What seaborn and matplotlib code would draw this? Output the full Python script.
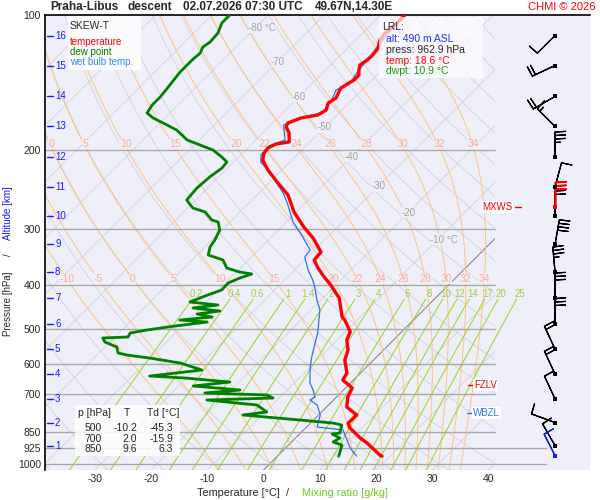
import numpy as np
import pandas as pd
import matplotlib
matplotlib.use("Agg")
import matplotlib.pyplot as plt
import matplotlib.transforms as mtransforms
from matplotlib.patches import Rectangle
import seaborn as sns

sns.set_style("white")
plt.rcParams['font.family'] = ['Liberation Sans', 'DejaVu Sans']

# ---------------- data ----------------
temp_p = [100.0, 104.2, 109.7, 113.7, 118.5, 122.8, 126.0, 129.3, 132.6, 136.1, 139.6, 145.5,
          153.1, 157.1, 162.9, 167.1, 169.7, 174.1, 177.7, 183.3, 191.9, 193.9, 197.9, 203.1,
          210.5, 221.6, 236.9, 251.9, 274.9, 296.9, 314.2, 337.6, 351.7, 366.5, 383.8, 400.0,
          427.5, 471.3, 478.6, 509.0, 530.3, 558.3, 587.7, 628.3, 651.2, 678.5, 710.6, 748.0,
          779.4, 812.1, 833.2, 877.1, 899.9, 957.1, 962.9]
temp_t = [-55.7, -55.7, -56.0, -55.7, -54.6, -54.3, -54.4, -54.8, -54.1, -53.2, -53.2, -54.1,
          -53.2, -53.7, -52.8, -53.4, -55.9, -57.3, -56.9, -55.3, -53.7, -55.7, -56.4, -56.2,
          -55.2, -52.5, -48.4, -44.5, -40.4, -36.0, -32.4, -28.5, -28.3, -26.2, -23.5, -20.9,
          -17.1, -13.2, -12.2, -9.1, -8.3, -6.3, -5.1, -2.4, -1.9, 1.2, 2.0, 3.6,
          6.8, 6.7, 7.9, 11.5, 13.6, 18.0, 18.6]

dewp_p = [100.0, 104.2, 109.7, 114.9, 117.9, 121.5, 126.0, 134.0, 145.5, 152.3, 158.7, 165.4,
          169.7, 175.9, 180.5, 189.9, 194.9, 200.0, 207.3, 212.7, 219.3, 229.7, 243.0, 258.5,
          269.3, 274.9, 286.4, 289.4, 301.5, 317.4, 329.0, 342.8, 351.7, 366.5, 374.1, 377.9,
          385.8, 395.8, 410.3, 423.1, 436.4, 443.1, 450.0, 457.0, 464.1, 471.3, 478.6, 483.6,
          493.6, 503.8, 511.6, 522.2, 524.9, 535.8, 549.8, 567.0, 572.9, 581.8, 596.8, 618.7,
          638.1, 644.6, 658.0, 671.6, 685.5, 696.2, 703.3, 714.3, 721.6, 740.4, 767.5, 779.4,
          799.7, 812.1, 820.5, 855.0, 859.3, 877.1, 895.4, 909.3, 942.5, 962.9]
dewp_t = [-86.8, -86.8, -85.7, -85.5, -85.9, -85.3, -85.5, -85.5, -84.9, -84.6, -84.6, -84.1,
          -82.1, -78.4, -75.8, -72.2, -69.0, -65.8, -63.0, -61.2, -61.0, -61.6, -61.9, -61.6,
          -59.1, -56.2, -53.6, -52.1, -50.4, -49.5, -49.1, -48.0, -44.5, -42.4, -39.4, -36.9,
          -38.3, -39.5, -39.4, -41.3, -42.9, -37.4, -41.3, -36.0, -39.5, -36.3, -41.5, -36.3,
          -41.3, -45.6, -48.0, -47.7, -52.0, -50.9, -47.9, -46.6, -44.7, -40.1, -33.8, -28.7,
          -36.9, -30.3, -21.6, -27.4, -18.4, -24.1, -12.7, -11.1, -22.5, -12.7, -9.7, -13.4,
          -2.4, 4.0, 5.9, 7.0, 5.8, 7.9, 7.4, 9.5, 10.4, 10.9]

wetb_p = [100.0, 119.7, 134.0, 141.0, 147.0, 154.7, 164.5, 170.6, 175.9, 189.9, 195.9, 205.2,
          212.7, 221.6, 249.4, 262.5, 289.4, 312.6, 334.1, 346.4, 370.2, 389.8, 404.0, 431.9,
          454.6, 511.6, 538.6, 578.7, 609.2, 661.4, 685.5, 710.6, 721.6, 740.4, 779.4, 828.9,
          841.7, 886.0, 923.3, 962.9]
wetb_t = [-55.9, -54.8, -54.0, -53.4, -54.6, -53.6, -52.9, -56.1, -57.7, -54.8, -56.6, -56.4,
          -55.2, -52.5, -45.7, -43.2, -38.8, -34.4, -30.8, -30.5, -27.6, -25.0, -23.4, -20.7,
          -18.4, -14.7, -13.4, -11.5, -10.0, -7.2, -5.4, -3.8, -4.2, -2.0, 0.3, 1.9,
          7.0, 9.5, 11.5, 14.1]

isobars = [200, 300, 400, 500, 600, 700, 850, 925, 1000]
pressure_ticks = [100, 200, 300, 400, 500, 600, 700, 850, 925, 1000]
temp_ticks = [-30, -20, -10, 0, 10, 20, 30, 40]
mixing_ratios = [0.2, 0.4, 0.6, 1, 1.4, 2, 3, 4, 6, 8, 10, 12, 14, 17, 20, 25]
theta_w = [-10, -5, 0, 5, 10, 15, 20, 22, 24, 26, 28, 30, 32, 34]
iso_label_t = [-80, -70, -60, -50, -40, -30, -20, -10]
iso_label_p = [107, 127, 152, 178, 207, 241, 276, 317]

alt_km = list(range(1, 17))
alt_p = [911.6, 810.0, 717.2, 631.5, 555.4, 487.3, 427.5, 374.1, 324.8, 280.6,
         241.8, 207.3, 177.2, 151.9, 129.6, 111.1]

sfc_wind = (962.9, 333, 10)
wind_p = alt_p
wind_dir = [330, 290, 335, 335, 335, 360, 360, 355, 10, 360, 15, 360, 315, 240, 245, 225]
wind_kt = [10, 10, 10, 20, 20, 30, 30, 35, 40, 20, 10, 35, 15, 20, 20, 10]
mxws = (268.0, 360, 30)

fzlv_p, wbzl_p = 668.0, 771.0
lrl = {"alt": 490, "press": 962.9, "temp": 18.6, "dwpt": 10.9}
tbl_p = [500, 700, 850]
tbl_t = [-10.2, 2.0, 9.6]
tbl_td = [-45.3, -15.9, 6.3]

# ---------------- geometry ----------------
P_BOT, P_TOP = 1033.6, 100.0
SKEW = 34.6
X_LEFT, X_RIGHT = -38.81, 57.99
X_CLIP = 41.12


def skew(t, p):
    return np.asarray(t, float) + SKEW * np.log(P_BOT / np.asarray(p, float))


fig = plt.figure(figsize=(6, 5), dpi=100)
ax = fig.add_axes([45 / 600, 30 / 500, 545 / 600, 455 / 500])
ax.set_yscale('log')
ax.set_facecolor('#efeffa')

clip = Rectangle((0, 0), (495 - 45) / 545, 1, transform=ax.transAxes)
GRID = '#d2d2dc'

# isotherms
pp = np.geomspace(P_BOT, P_TOP, 60)
for t in range(-160, 60, 10):
    col, lw = ('#6a6a6a', 0.6) if t == 0 else (GRID, 0.6)
    ln, = ax.plot(skew(np.full_like(pp, t), pp), pp, color=col, lw=lw, zorder=1)
    ln.set_clip_path(clip)

# dry adiabats
for th in range(-40, 240, 10):
    tt = (th + 273.15) * (pp / 1000.0) ** 0.2857 - 273.15
    ln, = ax.plot(skew(tt, pp), pp, color=GRID, lw=0.6, zorder=1)
    ln.set_clip_path(clip)

# pseudo-adiabats
Rd, cp, Lv, eps = 287.04, 1005.7, 2.501e6, 0.622


def es(tc):
    return 6.112 * np.exp(17.67 * tc / (tc + 243.5))


def dtdlnp(T, p):
    e = es(T - 273.15)
    rs = eps * e / (p - e)
    return (Rd * T + Lv * rs) / (cp + Lv ** 2 * rs * eps / (Rd * T ** 2))


def integrate(T0, plev):
    out = [T0]
    T = T0
    for i in range(len(plev) - 1):
        p0, p1 = plev[i], plev[i + 1]
        h = np.log(p1) - np.log(p0)
        pm = np.sqrt(p0 * p1)
        k1 = dtdlnp(T, p0)
        k2 = dtdlnp(T + 0.5 * h * k1, pm)
        k3 = dtdlnp(T + 0.5 * h * k2, pm)
        k4 = dtdlnp(T + h * k3, p1)
        T = T + h / 6 * (k1 + 2 * k2 + 2 * k3 + k4)
        out.append(T)
    return np.array(out)


up = np.geomspace(1000, P_TOP, 300)
down = np.geomspace(1000, P_BOT, 8)
ORANGE, ORANGE_T = '#ffc47e', '#ffa98e'
lab_rows = [197.0, 387.7]
for thw in theta_w:
    Tu = integrate(thw + 273.15, up) - 273.15
    Td_ = integrate(thw + 273.15, down) - 273.15
    pcur = np.concatenate([down[::-1], up[1:]])
    tcur = np.concatenate([Td_[::-1], Tu[1:]])
    ln, = ax.plot(skew(tcur, pcur), pcur, color=ORANGE, lw=0.7, zorder=1.2)
    ln.set_clip_path(clip)
    for pl in lab_rows:
        tl = np.interp(np.log(pl), np.log(pcur[::-1]), tcur[::-1])
        xl = float(skew(tl, pl))
        if X_LEFT + 0.8 < xl < X_CLIP:
            ax.text(xl, pl * 0.985 if pl < 300 else pl, f"{thw:g}", color=ORANGE_T,
                    fontsize=7.5, ha='center', va='center', zorder=2,
                    bbox=dict(facecolor='#efeffa', edgecolor='none', pad=0.2))

# mixing-ratio lines
pm_ = np.geomspace(P_BOT, 430, 30)
MIXC = '#9ad62a'
for w in mixing_ratios:
    e = w * pm_ / (622.0 + w)
    a = np.log(e / 6.112)
    td = 243.5 * a / (17.67 - a)
    ax.plot(skew(td, pm_), pm_, color=MIXC, lw=0.75, zorder=1.3)
    pl = 418.0
    e = w * pl / (622.0 + w)
    a = np.log(e / 6.112)
    tl = 243.5 * a / (17.67 - a)
    ax.text(float(skew(tl, pl)), pl, f"{w:g}", color='#9fd040', fontsize=7,
            ha='center', va='center', zorder=2)

# isobars
for p in isobars:
    xmax = 50.18 if p >= 925 else X_CLIP
    ax.plot([X_LEFT, xmax], [p, p], color='#a8a8a8', lw=1.0, zorder=1.5)

# isotherm labels
for t, p in zip(iso_label_t, iso_label_p):
    xl = float(skew(t, p))
    if t in (-80, -10):
        ax.text(xl - 1.25, p, f"{t} °C", color='#a0a0a0', fontsize=7, ha='left',
                va='center', zorder=2,
                bbox=dict(facecolor='#efeffa', edgecolor='none', pad=0.2))
    else:
        ax.text(xl, p, f"{t}", color='#a0a0a0', fontsize=7, ha='center',
                va='center', zorder=2,
                bbox=dict(facecolor='#efeffa', edgecolor='none', pad=0.2))

# profiles via seaborn
df_wb = pd.DataFrame({"x": skew(wetb_t, wetb_p), "p": wetb_p})
df_td = pd.DataFrame({"x": skew(dewp_t, dewp_p), "p": dewp_p})
df_t = pd.DataFrame({"x": skew(temp_t, temp_p), "p": temp_p})
sns.lineplot(data=df_wb, x="x", y="p", sort=False, estimator=None, color='#2f6ff0',
             lw=0.9, ax=ax, zorder=3)
sns.lineplot(data=df_td, x="x", y="p", sort=False, estimator=None, color='#008000',
             lw=2.0, ax=ax, zorder=4)
sns.lineplot(data=df_t, x="x", y="p", sort=False, estimator=None, color='#ff0000',
             lw=2.4, ax=ax, zorder=5)

# wind barbs
XB = (555 - 263.5) / 5.63
BSZ = dict(height=0.42, width=0.05, spacing=0.14, emptybarb=0.0)


def uv(d, s):
    r = np.deg2rad(np.asarray(d, float))
    s = np.asarray(s, float)
    return -s * np.sin(r), -s * np.cos(r)


u, v = uv(wind_dir, wind_kt)
ax.barbs(np.full(len(wind_p), XB), wind_p, u, v, length=6, lw=0.9, color='black',
         zorder=6, sizes=BSZ)
su, sv = uv([sfc_wind[1]], [sfc_wind[2]])
ax.barbs([XB], [sfc_wind[0]], su, sv, length=6, lw=0.9, color='#1020e0', zorder=6, sizes=BSZ)
mu, mv = uv([mxws[1]], [mxws[2]])
ax.barbs([XB], [mxws[0]], mu, mv, length=6, lw=1.2, color='#ff0000', zorder=7, sizes=BSZ)
ax.scatter(np.full(len(wind_p), XB), wind_p, marker='s', s=7, color='black', zorder=8,
           linewidths=0)
ax.scatter([XB], [sfc_wind[0]], marker='s', s=7, color='#1020e0', zorder=8, linewidths=0)
ax.scatter([XB], [mxws[0]], marker='s', s=7, color='#ff0000', zorder=8, linewidths=0)

# level markers
bb = dict(facecolor='white', edgecolor='none', pad=0.6)
ax.plot([(468 - 263.5) / 5.63, (473 - 263.5) / 5.63], [fzlv_p] * 2, color='#ff0000', lw=1, zorder=6)
ax.text((474 - 263.5) / 5.63, fzlv_p, "FZLV", color='#ff0000', fontsize=7, ha='left',
        va='center', zorder=6, bbox=bb)
ax.plot([(467 - 263.5) / 5.63, (472 - 263.5) / 5.63], [wbzl_p] * 2, color='#3377dd', lw=1, zorder=6)
ax.text((473 - 263.5) / 5.63, wbzl_p, "WBZL", color='#3377dd', fontsize=7, ha='left',
        va='center', zorder=6, bbox=bb)
ax.text((512 - 263.5) / 5.63, mxws[0], "MXWS", color='#ff0000', fontsize=7, ha='right',
        va='center', zorder=6, bbox=bb)
ax.plot([(515 - 263.5) / 5.63, (521 - 263.5) / 5.63], [mxws[0]] * 2, color='#ff0000', lw=1, zorder=6)

# altitude ticks
btr = mtransforms.blended_transform_factory(ax.transAxes, ax.transData)
for km, p in zip(alt_km, alt_p):
    ax.plot([2 / 545, 8 / 545], [p, p], color='#1a1aff', lw=1.0, transform=btr, zorder=6)
    ax.text(10 / 545, p, f"{km}", color='#1a1aff', fontsize=7, ha='left', va='center',
            transform=btr, zorder=6)

# axes cosmetics
ax.set_xlim(X_LEFT, X_RIGHT)
ax.set_ylim(P_BOT, P_TOP)
ax.set_xticks(temp_ticks)
ax.set_xticklabels([f"{t}" for t in temp_ticks], fontsize=7.5)
ax.set_yticks(pressure_ticks)
ax.set_yticklabels([f"{p}" for p in pressure_ticks], fontsize=7.5)
ax.yaxis.set_minor_locator(matplotlib.ticker.NullLocator())
ax.tick_params(axis='both', length=0)
ax.tick_params(axis='x', pad=3)
ax.tick_params(axis='y', pad=3)
ax.set_xlabel("")
ax.set_ylabel("")
for s in ['right', 'bottom']:
    ax.spines[s].set_visible(False)
for s in ['top', 'left']:
    ax.spines[s].set_visible(True)
    ax.spines[s].set_color('black')
    ax.spines[s].set_linewidth(1.2)


def F(x, y):
    return x / 600, 1 - y / 500


def box(x0, y0, x1, y1, alpha):
    r = Rectangle(F(x0, y1), (x1 - x0) / 600, (y1 - y0) / 500, transform=fig.transFigure,
                  facecolor='white', edgecolor='none', alpha=alpha, zorder=20)
    fig.patches.append(r)


# title
for txt, x in [("Praha-Libus", 50), ("descent", 128), ("02.07.2026 07:30 UTC", 183),
               ("49.67N,14.30E", 315)]:
    fig.text(*F(x, 7.5), txt, fontsize=8.5, fontweight='bold', ha='left', va='center')
fig.text(*F(596, 7.5), "CHMI © 2026", fontsize=8, color='#ff0000', ha='right', va='center')

# legend box
box(68, 16, 141, 70, 0.85)
fig.text(*F(70, 26), "SKEW-T", fontsize=7.5, ha='left', va='center', zorder=21)
fig.text(*F(70, 42), "temperature", fontsize=7, color='#ff0000', ha='left', va='center', zorder=21)
fig.text(*F(70, 52), "dew point", fontsize=7, color='#008000', ha='left', va='center', zorder=21)
fig.text(*F(70, 62), "wet bulb temp.", fontsize=7, color='#3388ff', ha='left', va='center', zorder=21)

# LRL box
box(379, 17, 483, 78, 0.68)
fig.text(*F(382, 27), "LRL:", fontsize=7.5, ha='left', va='center', zorder=21)
fig.text(*F(386, 39), f"alt: {lrl['alt']} m ASL", fontsize=7.5, color='#2233ff', ha='left', va='center', zorder=21)
fig.text(*F(386, 50), f"press: {lrl['press']:.1f} hPa", fontsize=7.5, ha='left', va='center', zorder=21)
fig.text(*F(386, 61), f"temp: {lrl['temp']:.1f} °C", fontsize=7.5, color='#ff0000', ha='left', va='center', zorder=21)
fig.text(*F(386, 71), f"dwpt: {lrl['dwpt']:.1f} °C", fontsize=7.5, color='#119911', ha='left', va='center', zorder=21)

# table box
box(75, 405, 180, 456, 0.85)
fig.text(*F(78, 413), "p [hPa]", fontsize=7.5, ha='left', va='center', zorder=21)
fig.text(*F(127, 413), "T", fontsize=7.5, ha='center', va='center', zorder=21)
fig.text(*F(147, 413), "Td [°C]", fontsize=7.5, ha='left', va='center', zorder=21)
for i, (pv, tv, dv) in enumerate(zip(tbl_p, tbl_t, tbl_td)):
    yy = 428 + i * 10.5
    fig.text(*F(102, yy), f"{pv}", fontsize=7.5, ha='right', va='center', zorder=21)
    fig.text(*F(137, yy), f"{tv:.1f}", fontsize=7.5, ha='right', va='center', zorder=21)
    fig.text(*F(173, yy), f"{dv:.1f}", fontsize=7.5, ha='right', va='center', zorder=21)

# axis titles
fig.text(*F(197, 493), "Temperature [°C]", fontsize=7.8, ha='left', va='center')
fig.text(*F(288, 493), "/", fontsize=7.8, ha='center', va='center')
fig.text(*F(302, 493), "Mixing ratio [g/kg]", fontsize=7.8, color='#66cc22', ha='left', va='center')
fig.text(*F(8, 304), "Pressure [hPa]", fontsize=7, rotation=90, ha='center', va='center')
fig.text(*F(8, 255), "/", fontsize=7, rotation=90, ha='center', va='center')
fig.text(*F(8, 213), "Altitude [km]", fontsize=7, color='#1a1aff', rotation=90, ha='center', va='center')

fig.savefig("out.png", dpi=100)
